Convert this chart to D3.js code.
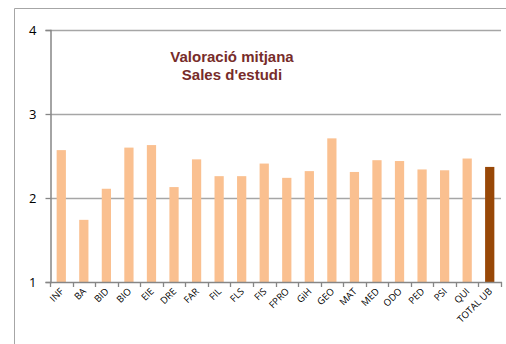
<!DOCTYPE html>
<html>
<head>
<meta charset="utf-8">
<script src="https://cdn.jsdelivr.net/npm/d3@7"></script>
<style>
  html, body { margin: 0; padding: 0; background: #fff; }
  svg { display: block; }
</style>
</head>
<body>
<svg id="chart" width="506" height="344"></svg>
<script>
// Mean rating of study rooms per centre
const categories = ["INF","BA","BID","BIO","EIE","DRE","FAR","FIL","FLS","FIS","FPRO","GiH","GEO","MAT","MED","ODO","PED","PSI","QUI","TOTAL UB"];
const values = [2.57,1.74,2.11,2.60,2.63,2.13,2.46,2.26,2.26,2.41,2.24,2.32,2.71,2.31,2.45,2.44,2.34,2.33,2.47,2.37];
const yTicks = [1,2,3,4];
const titleLines = ["Valoració mitjana", "Sales d'estudi"];

const svg = d3.select("#chart");
const font = "'Open Sans', 'Liberation Sans', sans-serif";
const titleFont = "'Liberation Sans', Arial, sans-serif";

// outer chart frame
svg.append("path")
  .attr("d", "M14.5,344 L14.5,8.5 L506,8.5")
  .attr("fill", "none").attr("stroke", "#a6a6a6").attr("stroke-width", 1);

const plotLeft = 50, plotRight = 501, plotTop = 30, plotBottom = 282;

const x = d3.scaleBand().domain(categories).range([plotLeft, plotRight]).paddingInner(0.59).paddingOuter(0.295);
const xEdges = d3.scaleLinear().domain([0, categories.length]).range([plotLeft, plotRight]);
const y = d3.scaleLinear().domain([1, 4]).range([plotBottom, plotTop]);

// horizontal gridlines
svg.append("g").selectAll("line").data(yTicks.slice(1)).join("line")
  .attr("x1", plotLeft).attr("x2", plotRight)
  .attr("y1", d => Math.round(y(d)) + 0.5).attr("y2", d => Math.round(y(d)) + 0.5)
  .attr("stroke", "#a6a6a6").attr("stroke-width", 1.3);

// bars
svg.append("g").selectAll("rect").data(categories).join("rect")
  .attr("x", d => x(d))
  .attr("width", x.bandwidth())
  .attr("y", (d, i) => y(values[i]))
  .attr("height", (d, i) => y(1) - y(values[i]))
  .attr("fill", d => d === "TOTAL UB" ? "#984807" : "#fac090");

// y axis
const yAxis = d3.axisLeft(y).tickValues(yTicks).tickSize(5).tickPadding(9).tickFormat(d3.format("d"));
const gy = svg.append("g").attr("transform", `translate(${plotLeft + 0.5},0)`).call(yAxis);
gy.select(".domain").attr("stroke", "#868686").attr("stroke-width", 1.5);
gy.selectAll(".tick line").attr("stroke", "#868686").attr("stroke-width", 1.3);
gy.selectAll(".tick text").attr("font-family", font).attr("font-size", 13).attr("fill", "#000");

// x axis line and boundary ticks
svg.append("line").attr("x1", plotLeft).attr("x2", plotRight + 1)
  .attr("y1", plotBottom + 0.5).attr("y2", plotBottom + 0.5)
  .attr("stroke", "#868686").attr("stroke-width", 1.5);
svg.append("g").selectAll("line").data(d3.range(categories.length + 1)).join("line")
  .attr("x1", d => Math.round(xEdges(d)) + 0.5).attr("x2", d => Math.round(xEdges(d)) + 0.5)
  .attr("y1", plotBottom).attr("y2", plotBottom + 5)
  .attr("stroke", "#868686").attr("stroke-width", 1.3);

// rotated category labels
svg.append("g").selectAll("text").data(categories).join("text")
  .attr("transform", d => `translate(${x(d) + x.bandwidth() / 2 + 3},${plotBottom + 10}) rotate(-45)`)
  .attr("text-anchor", "end")
  .attr("font-family", font).attr("font-size", 9.5).attr("fill", "#000")
  .text(d => d);

// title
svg.append("g").selectAll("text").data(titleLines).join("text")
  .attr("x", 232).attr("y", (d, i) => 62 + i * 18)
  .attr("text-anchor", "middle")
  .attr("font-family", titleFont).attr("font-weight", "bold").attr("font-size", 15)
  .attr("fill", "#772c2a")
  .text(d => d);
</script>
</body>
</html>
